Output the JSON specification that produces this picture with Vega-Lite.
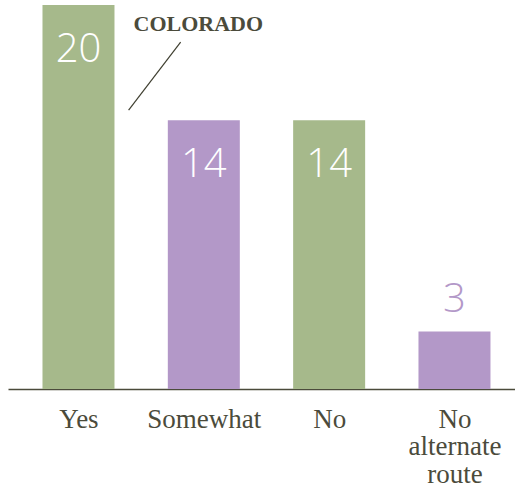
{
  "$schema": "https://vega.github.io/schema/vega-lite/v6.json",
  "autosize": {"type": "none"},
  "padding": {"left": 8, "top": 5, "right": 0, "bottom": 104},
  "width": 507,
  "height": 384,
  "background": "white",
  "config": {"view": {"stroke": null}},
  "datasets": {
    "bars": [
      {"answer": "Yes", "order": 0, "count": 20},
      {"answer": "Somewhat", "order": 1, "count": 14},
      {"answer": "No", "order": 2, "count": 14},
      {"answer": "No alternate route", "order": 3, "count": 3}
    ],
    "note": [{"label": "COLORADO", "x": 0.956, "y": 18.62}],
    "leader": [{"x": 0.400, "y": 14.53, "x2": 0.815, "y2": 18.07}]
  },
  "encoding": {
    "x": {"type": "quantitative", "scale": {"domain": [-0.5225, 3.443], "nice": false, "zero": false}},
    "y": {"type": "quantitative", "scale": {"domain": [0, 20], "nice": false}}
  },
  "layer": [
    {
      "data": {"name": "bars"},
      "mark": {"type": "bar", "width": 72},
      "encoding": {
        "x": {
          "field": "order", "type": "quantitative",
          "axis": {
            "title": null, "values": [0, 1, 2, 3], "ticks": false, "grid": false,
            "domainColor": "#4b4b3b", "domainWidth": 1.6,
            "labelFont": "Liberation Serif", "labelFontSize": 27,
            "labelColor": "#4b4b3b", "labelPadding": 17,
            "labelLineHeight": 27.5, "labelBaseline": "top", "labelAngle": 0,
            "labelFlush": false, "labelOverlap": false,
            "labelExpr": "[['Yes'],['Somewhat'],['No'],['No','alternate','route']][datum.value]"
          }
        },
        "y": {"field": "count", "type": "quantitative", "axis": null},
        "color": {
          "field": "answer", "type": "nominal", "sort": null,
          "scale": {"domain": ["Yes", "Somewhat", "No", "No alternate route"], "range": ["#a6b98b", "#b398c8", "#a6b98b", "#b398c8"]},
          "legend": null
        }
      }
    },
    {
      "data": {"name": "bars"},
      "transform": [{"filter": "datum.count > 5"}],
      "mark": {"type": "text", "font": "Open Sans", "fontWeight": 300, "fontSize": 40, "baseline": "alphabetic", "dy": 57, "color": "white"},
      "encoding": {
        "x": {"field": "order", "type": "quantitative"},
        "y": {"field": "count", "type": "quantitative"},
        "text": {"field": "count", "type": "quantitative"}
      }
    },
    {
      "data": {"name": "bars"},
      "transform": [{"filter": "datum.count <= 5"}],
      "mark": {"type": "text", "font": "Open Sans", "fontWeight": 300, "fontSize": 40, "baseline": "alphabetic", "dy": -19, "color": "#b398c8"},
      "encoding": {
        "x": {"field": "order", "type": "quantitative"},
        "y": {"field": "count", "type": "quantitative"},
        "text": {"field": "count", "type": "quantitative"}
      }
    },
    {
      "data": {"name": "leader"},
      "mark": {"type": "rule", "color": "#3f3f30", "strokeWidth": 1.2},
      "encoding": {
        "x": {"field": "x", "type": "quantitative"},
        "y": {"field": "y", "type": "quantitative"},
        "x2": {"field": "x2"},
        "y2": {"field": "y2"}
      }
    },
    {
      "data": {"name": "note"},
      "mark": {"type": "text", "font": "Liberation Serif", "fontWeight": "bold", "fontSize": 22, "baseline": "alphabetic", "color": "#4b4b3b"},
      "encoding": {
        "x": {"field": "x", "type": "quantitative"},
        "y": {"field": "y", "type": "quantitative"},
        "text": {"field": "label"}
      }
    }
  ]
}
